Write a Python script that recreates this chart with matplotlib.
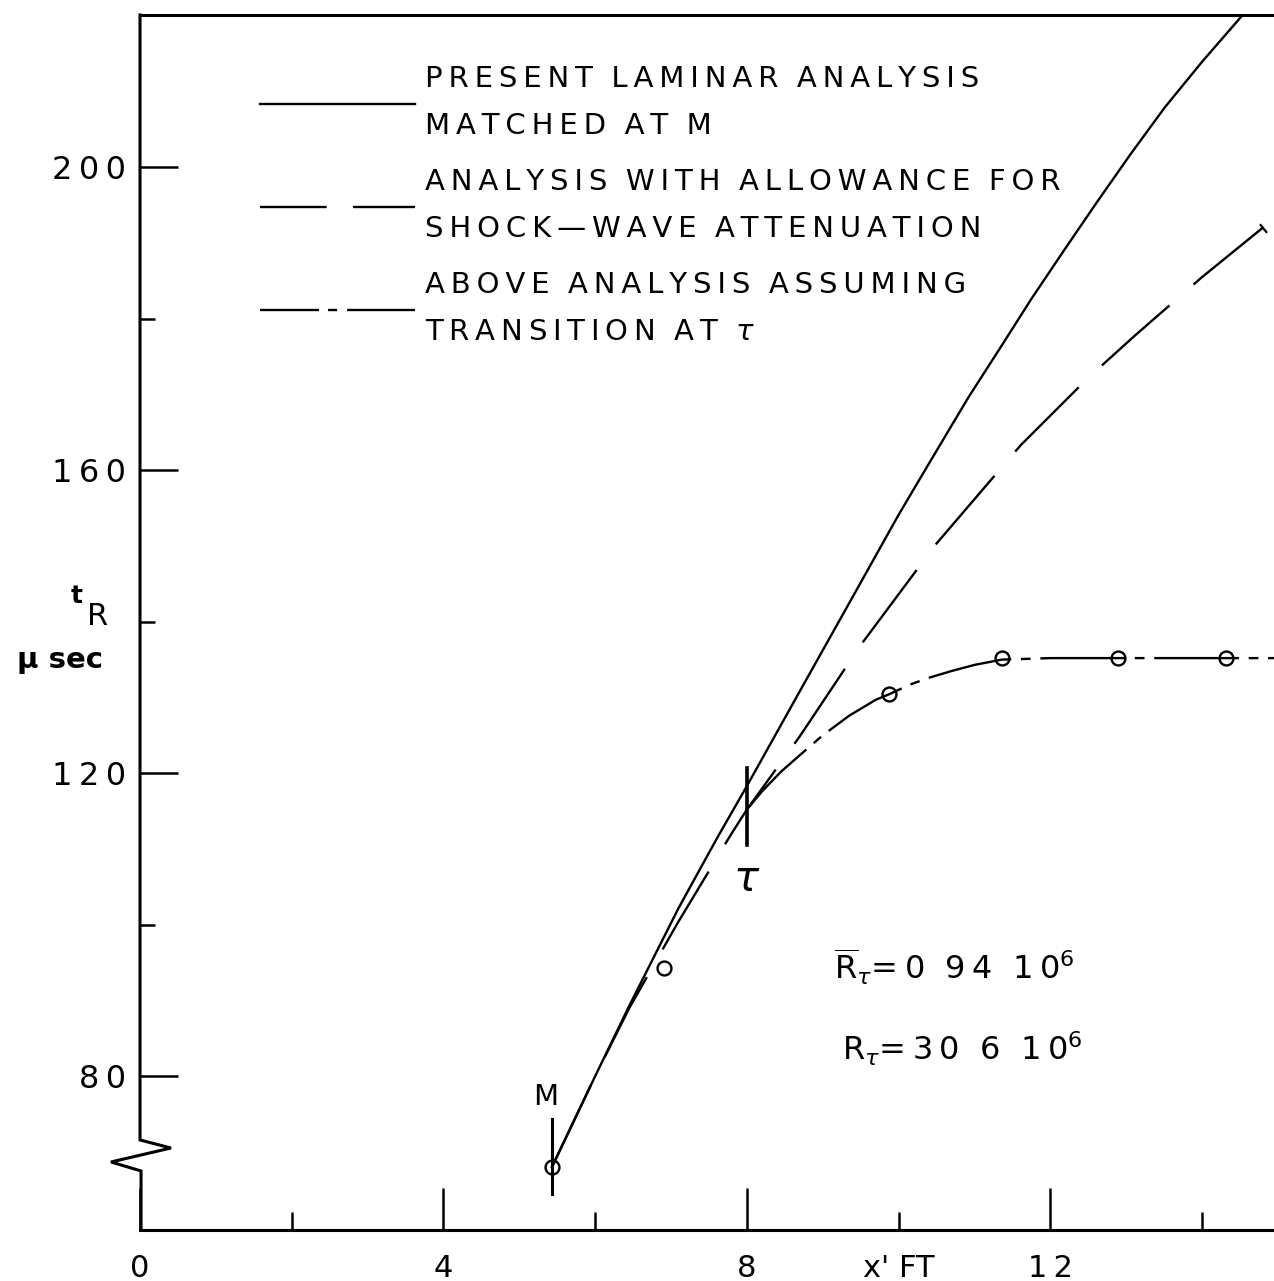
import matplotlib
matplotlib.use("Agg")
import matplotlib.pyplot as plt
from matplotlib.lines import Line2D
from matplotlib.ticker import FixedLocator, FixedFormatter

plt.rcParams["font.family"] = ["DejaVu Sans"]
plt.rcParams["mathtext.fontset"] = "dejavusans"
plt.rcParams["lines.scale_dashes"] = False

# present laminar analysis, matched at M
lam_x = [5.43, 6.0, 6.45, 7.1, 7.6, 8.0, 8.68, 9.38, 10.0, 10.39, 10.92, 11.35,
         11.75, 12.2, 12.63, 13.05, 13.51, 14.0, 14.58]
lam_y = [68.0, 80.0, 89.3, 102.2, 111.3, 118.3, 130.5, 143.0, 154.1, 160.7, 169.6, 176.3,
         182.6, 189.3, 195.6, 201.6, 207.9, 213.9, 220.6]

# analysis with allowance for shock-wave attenuation
att_x = [5.43, 6.0, 6.45, 7.08, 7.79, 8.0, 8.70, 9.50, 10.49, 11.61, 12.5, 13.13, 13.99, 14.80, 14.95]
att_y = [68.0, 80.0, 89.0, 100.1, 111.9, 115.2, 124.9, 136.9, 150.2, 163.3, 172.2, 177.9, 185.4, 192.0, 193.2]

# same analysis with transition at tau
tr_x = [8.0, 8.2, 8.45, 8.7, 9.0, 9.35, 9.7, 9.87, 10.15, 10.4, 10.7, 11.0, 11.36, 12.0, 13.0, 14.0, 14.95]
tr_y = [115.2, 117.6, 120.2, 122.4, 125.0, 127.6, 129.7, 130.4, 131.7, 132.6, 133.5, 134.3, 135.0, 135.2, 135.2, 135.2, 135.2]

# measured arrival times
obs_x = [5.43, 6.91, 9.87, 11.36, 12.89, 14.32]
obs_y = [68.0, 94.3, 130.4, 135.2, 135.2, 135.2]

x_major = [0, 4, 8, 12]
x_major_lbl = ["0", "4", "8", "12"]
x_minor = [2, 6, 10, 14]
x_minor_lbl = ["", "", "x' FT", ""]
y_major = [80, 120, 160, 200]
y_minor = [100, 140, 180]

M_x, M_lo, M_hi = 5.43, 64.4, 74.3
tau_x, tau_lo, tau_hi = 8.0, 110.5, 120.7
att_mark = (14.80, 192.0)

legend_labels = [
    "PRESENT LAMINAR ANALYSIS\nMATCHED AT M",
    "ANALYSIS WITH ALLOWANCE FOR\nSHOCK\u2014WAVE ATTENUATION",
    "ABOVE ANALYSIS ASSUMING\nTRANSITION AT $\\tau$",
]


def spaced(s):
    return "\u2009".join(s)


def lettered(label):
    # hand-lettered look: open letter spacing, wide word gaps
    lines = []
    for line in label.split("\n"):
        words = [w if w.startswith("$") else spaced(w) for w in line.split(" ")]
        lines.append("  ".join(words))
    return "\n".join(lines)


LW = 1.7
DASH = (0, (65, 23))
DASHDOT = (0, (61, 7, 7, 7))

fig = plt.figure(figsize=(12.74, 12.81), dpi=100)
ax = fig.add_axes([0.1099, 0.0398, 0.8901, 0.9485])
ax.set_xlim(0, 14.95)
ax.set_ylim(59.7, 220.1)

ax.plot(lam_x, lam_y, color="k", lw=LW)
ax.plot(att_x, att_y, color="k", lw=LW, linestyle=DASH)
ax.plot(tr_x, tr_y, color="k", lw=LW, linestyle=DASHDOT)
ax.plot(obs_x, obs_y, linestyle="none", marker="o", ms=10, mfc="none",
        mec="k", mew=1.7)
ax.plot(*att_mark, marker=(2, 0, 39), ms=8, mec="k", mew=1.6)

# station markers
ax.plot([M_x, M_x], [M_lo, M_hi], color="k", lw=2.2)
ax.text(M_x - 0.08, 75.4, "M", fontsize=21, ha="center", va="bottom")
ax.plot([tau_x, tau_x], [tau_lo, tau_hi], color="k", lw=2.6)
ax.text(tau_x, 106.0, "$\\tau$", fontsize=30, ha="center", va="center")

ax.text(9.15, 94.4,
        "$\\overline{\\mathrm{R}}_{\\tau}$=\u20090  9\u20094  1\u20090$^{6}$",
        fontsize=23, ha="left", va="center")
ax.text(9.25, 83.6,
        "$\\mathrm{R}_{\\tau}$=\u20093\u20090  6  1\u20090$^{6}$",
        fontsize=23, ha="left", va="center")

# axes frame with a break in the left spine
for side in ["left", "right"]:
    ax.spines[side].set_visible(False)
for side in ["top", "bottom"]:
    ax.spines[side].set_linewidth(2.2)
ax.plot([0, 0, 0.0273, -0.0256, 0.0009, 0.0009],
        [1, 0.0741, 0.0675, 0.0560, 0.0486, 0],
        transform=ax.transAxes, color="k", lw=2.2, clip_on=False,
        solid_joinstyle="miter")

ax.xaxis.set_major_locator(FixedLocator(x_major))
ax.xaxis.set_major_formatter(FixedFormatter([spaced(s) for s in x_major_lbl]))
ax.xaxis.set_minor_locator(FixedLocator(x_minor))
ax.xaxis.set_minor_formatter(FixedFormatter(x_minor_lbl))
ax.yaxis.set_major_locator(FixedLocator(y_major))
ax.yaxis.set_major_formatter(FixedFormatter([spaced(str(v)) for v in y_major]))
ax.yaxis.set_minor_locator(FixedLocator(y_minor))

ax.tick_params(axis="x", which="major", direction="in", length=30, width=1.8,
               pad=17, labelsize=22)
ax.tick_params(axis="x", which="minor", direction="in", length=13, width=1.8,
               pad=17, labelsize=22)
ax.tick_params(axis="y", which="major", direction="in", length=27, width=1.8,
               pad=10, labelsize=23)
ax.tick_params(axis="y", which="minor", direction="in", length=11, width=1.8)
ax.tick_params(top=False, right=False, which="both")

# axis title
fig.text(0.0604, 0.5347, "t", fontsize=18, ha="center", va="center",
         fontweight="bold")
fig.text(0.0769, 0.5191, "R", fontsize=22, ha="center", va="center")
fig.text(0.0471, 0.4848, "\u03bc sec", fontsize=21, ha="center", va="center",
         fontweight="bold")

handles = [
    Line2D([], [], color="k", lw=LW),
    Line2D([], [], color="k", lw=LW, linestyle=(0, (48, 19))),
    Line2D([], [], color="k", lw=LW, linestyle=(0, (42.5, 6.5, 6.5, 7.2, 60, 10))),
]
leg = ax.legend(handles, [lettered(s) for s in legend_labels], loc="upper left",
                bbox_to_anchor=(0.1058, 0.9585), frameon=False, fontsize=21,
                handlelength=5.3, handletextpad=0.35, labelspacing=0.97,
                borderpad=0, borderaxespad=0)
for t in leg.get_texts():
    t.set_linespacing(1.85)

fig.savefig("out.png", dpi=100)
